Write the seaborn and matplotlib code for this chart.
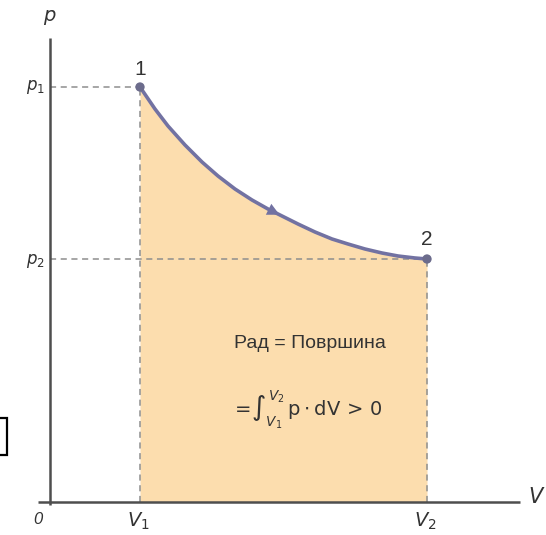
import matplotlib
matplotlib.use('Agg')
import matplotlib.pyplot as plt
import seaborn as sns
import numpy as np
from matplotlib.patches import Rectangle

# process curve 1 -> 2 (V, p in arbitrary units)
V_curve = [0.90, 1.05, 1.18, 1.35, 1.52, 1.68, 1.85, 2.02, 2.18, 2.32,
           2.48, 2.65, 2.82, 2.98, 3.15, 3.32, 3.48, 3.65, 3.77]
p_curve = [4.15, 3.93, 3.76, 3.57, 3.40, 3.26, 3.13, 3.02, 2.93, 2.86,
           2.78, 2.70, 2.63, 2.58, 2.53, 2.49, 2.46, 2.44, 2.43]

state_labels = ['1', '2']
p_labels = ['$p_1$', '$p_2$']
V_labels = ['$V_1$', '$V_2$']
text_work = 'Рад = Површина'
text_integral = r'$=\!\int_{V_1}^{V_2}\,\mathrm{p}\cdot\mathrm{dV}\,>\,0$'

V1, V2 = V_curve[0], V_curve[-1]
p1, p2 = p_curve[0], p_curve[-1]

sns.set_style('white')
plt.rcParams['font.family'] = ['Liberation Sans', 'DejaVu Sans']
plt.rcParams['mathtext.fontset'] = 'dejavusans'

fig = plt.figure(figsize=(5.46, 5.35), dpi=100)
ax = fig.add_axes([0, 0, 1, 1])
ax.set_xlim(-0.50, 4.96)
ax.set_ylim(-0.33, 5.02)
ax.axis('off')

fill_c = '#FCDDAE'
curve_c = '#7272A2'
dash_c = '#8E8E8E'
axis_c = '#4E4E4E'
text_c = '#333333'

V_arr = np.array(V_curve)
p_arr = np.array(p_curve)
ax.fill_between(V_arr, 0, p_arr, color=fill_c, lw=0, zorder=1)

# dashed guide lines
dash = dict(color=dash_c, lw=1.1, ls=(0, (4, 3)), zorder=2)
ax.plot([0, V1], [p1, p1], **dash)
ax.plot([0, V2], [p2, p2], **dash)
ax.plot([V1, V1], [0, p1], **dash)
ax.plot([V2, V2], [0, p2], **dash)

# axes
ax.plot([0, 0], [-0.03, 4.64], color=axis_c, lw=1.8, zorder=4, solid_capstyle='butt')
ax.plot([-0.12, 4.70], [0, 0], color=axis_c, lw=1.8, zorder=4, solid_capstyle='butt')

# curve
sns.lineplot(x=V_curve, y=p_curve, sort=False, color=curve_c, lw=2.6, ax=ax, zorder=5,
             solid_joinstyle='round')
ax.annotate('', xy=(V_curve[9], p_curve[9]), xytext=(V_curve[8], p_curve[8]),
            arrowprops=dict(arrowstyle='-|>', color=curve_c, lw=0, mutation_scale=22),
            zorder=6)
ax.scatter([V1, V2], [p1, p2], s=45, color='#6C6C8C', zorder=6, edgecolor='none')

# labels
ax.text(V1, p1 + 0.17, state_labels[0], fontsize=15, color=text_c, ha='center', va='center')
ax.text(V2, p2 + 0.19, state_labels[1], fontsize=15, color=text_c, ha='center', va='center')
ax.text(0.0, 4.84, '$p$', fontsize=14, color=text_c, ha='center', va='center')
ax.text(-0.15, p1, p_labels[0], fontsize=12, color=text_c, ha='center', va='center')
ax.text(-0.15, p2 - 0.02, p_labels[1], fontsize=12, color=text_c, ha='center', va='center')
ax.text(4.87, 0.05, '$V$', fontsize=15, color=text_c, ha='center', va='center')
ax.text(-0.12, -0.17, '0', fontsize=12, fontstyle='italic', color=text_c,
        ha='center', va='center')
ax.text(V1 - 0.02, -0.19, V_labels[0], fontsize=14, color=text_c, ha='center', va='center')
ax.text(V2 - 0.02, -0.19, V_labels[1], fontsize=14, color=text_c, ha='center', va='center')

ax.text(2.60, 1.59, text_work, fontsize=14, color=text_c, ha='center', va='center')
ax.text(2.57, 0.92, text_integral, fontsize=14, color=text_c, ha='center', va='center')

# small bracket at left edge
ax.add_patch(Rectangle((-0.53, 0.47), 0.10, 0.37, fill=False, ec='black', lw=1.6,
                       clip_on=False, zorder=3))

fig.savefig('out.png', dpi=100, facecolor='white')
plt.close(fig)
